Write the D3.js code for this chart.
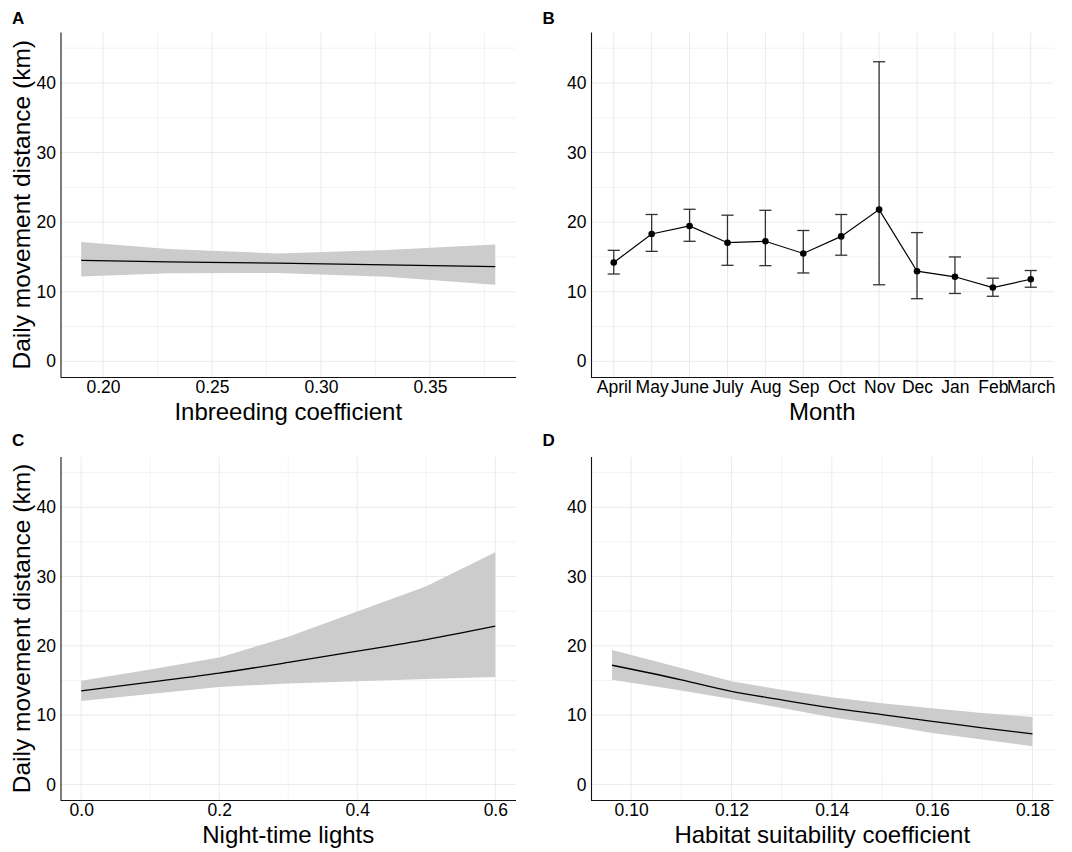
<!DOCTYPE html>
<meta charset="utf-8">
<script src="https://d3js.org/d3.v7.min.js"></script>
<style>
  body { margin: 0; background: #fff; }
  svg text { font-family: "Liberation Sans", Arial, sans-serif; fill: #000; }
</style>
<div id="my_dataviz"></div>
<script>

// ---- data ----
var yTicks = [0, 10, 20, 30, 40];
var yMinor = [5, 15, 25, 35, 45];

// A: inbreeding coefficient
var inbreedX    = [0.19, 0.23, 0.28, 0.33, 0.38];
var inbreedFit  = [14.5, 14.3, 14.1, 13.85, 13.6];
var inbreedLow  = [12.2, 12.65, 12.7, 12.15, 11.0];
var inbreedHigh = [17.15, 16.15, 15.5, 16.0, 16.8];
var inbreedTicks = [0.20, 0.25, 0.30, 0.35];
var inbreedMinor = [0.225, 0.275, 0.325, 0.375];

// B: month
var months    = ["April", "May", "June", "July", "Aug", "Sep", "Oct", "Nov", "Dec", "Jan", "Feb", "March"];
var monthMean = [14.2, 18.3, 19.45, 17.05, 17.25, 15.5, 17.95, 21.8, 12.95, 12.15, 10.6, 11.8];
var monthLow  = [12.55, 15.8, 17.25, 13.8, 13.75, 12.7, 15.25, 11.0, 9.0, 9.75, 9.35, 10.65];
var monthHigh = [15.95, 21.1, 21.85, 21.0, 21.7, 18.8, 21.1, 43.05, 18.5, 15.0, 11.95, 13.05];

// C: night-time lights
var lightsX    = [0, 0.1, 0.2, 0.3, 0.4, 0.5, 0.6];
var lightsFit  = [13.5, 14.77, 16.07, 17.6, 19.23, 20.9, 22.83];
var lightsLow  = [12.04, 13.05, 14.05, 14.58, 14.9, 15.2, 15.5];
var lightsHigh = [14.96, 16.6, 18.32, 21.3, 24.95, 28.6, 33.5];
var lightsTicks = [0, 0.2, 0.4, 0.6];
var lightsMinor = [0.1, 0.3, 0.5];

// D: habitat suitability
var habitatX    = [0.0962, 0.11, 0.12, 0.13, 0.14, 0.15, 0.16, 0.17, 0.18];
var habitatFit  = [17.2, 15.1, 13.43, 12.2, 11.03, 10.07, 9.11, 8.15, 7.29];
var habitatLow  = [15.1, 13.57, 12.33, 11.03, 9.69, 8.63, 7.43, 6.47, 5.52];
var habitatHigh = [19.38, 16.8, 14.87, 13.67, 12.57, 11.7, 10.98, 10.3, 9.74];
var habitatTicks = [0.10, 0.12, 0.14, 0.16, 0.18];
var habitatMinor = [0.11, 0.13, 0.15, 0.17];

var svg = d3.select("#my_dataviz")
    .append("svg")
    .attr("width", 1072)
    .attr("height", 852);

var gridColor = "#ebebeb";
var tickFont = "17.5px";
var titleFont = "24px";

// panel frame: gridlines, letter, y title; returns y scale
function makePanel(box, label, showYTitle) {
    var g = svg.append("g");
    var y = d3.scaleLinear().domain([-2.25, 47.25]).range([box.bottom, box.top]);

    g.selectAll(".ymin").data(yMinor).enter().append("line")
        .attr("x1", box.left).attr("x2", box.right)
        .attr("y1", function (d) { return y(d); }).attr("y2", function (d) { return y(d); })
        .attr("stroke", gridColor).attr("stroke-width", 0.6);
    g.selectAll(".ymaj").data(yTicks).enter().append("line")
        .attr("x1", box.left).attr("x2", box.right)
        .attr("y1", function (d) { return y(d); }).attr("y2", function (d) { return y(d); })
        .attr("stroke", gridColor).attr("stroke-width", 1);

    // panel letter
    svg.append("text")
        .attr("x", box.left - 48.5)
        .attr("y", box.labelY)
        .attr("font-size", "17px")
        .attr("font-weight", "bold")
        .text(label);

    if (showYTitle) {
        svg.append("text")
            .attr("transform", "translate(" + 29.5 + "," + ((box.top + box.bottom) / 2) + ") rotate(-90)")
            .attr("text-anchor", "middle")
            .attr("font-size", "24.5px")
            .text("Daily movement distance (km)");
    }
    return { g: g, y: y };
}

function finishAxes(p, box, x, xTitle, fmt, ticks) {
    var yAxis = p.g.append("g")
        .attr("transform", "translate(" + box.left + ",0)")
        .call(d3.axisLeft(p.y).tickValues(yTicks).tickSize(0).tickPadding(4.5));
    var xAxis = p.g.append("g")
        .attr("transform", "translate(0," + box.bottom + ")")
        .call(d3.axisBottom(x).tickSize(0).tickPadding(4));
    if (ticks) xAxis.call(d3.axisBottom(x).tickValues(ticks).tickFormat(fmt).tickSize(0).tickPadding(4));

    [yAxis, xAxis].forEach(function (a) {
        a.select(".domain").attr("stroke", "#111").attr("stroke-width", 1.1);
        a.selectAll("text").attr("font-size", tickFont).attr("fill", "#111");
    });
    // axis lines span the whole panel
    xAxis.select(".domain").attr("d", "M" + box.left + ",0.5H" + box.right);
    yAxis.select(".domain").attr("d", "M0.5," + box.top + "V" + box.bottom);

    svg.append("text")
        .attr("x", (box.left + box.right) / 2)
        .attr("y", box.bottom + 42.5)
        .attr("text-anchor", "middle")
        .attr("font-size", titleFont)
        .text(xTitle);
}

function ribbonPanel(box, label, showYTitle, xs, fit, lo, hi, ticks, minor, fmt, xTitle) {
    var p = makePanel(box, label, showYTitle);
    var ext = d3.extent(xs), pad = (ext[1] - ext[0]) * 0.05;
    var x = d3.scaleLinear().domain([ext[0] - pad, ext[1] + pad]).range([box.left, box.right]);

    p.g.selectAll(".xmin").data(minor).enter().append("line")
        .attr("y1", box.top).attr("y2", box.bottom)
        .attr("x1", function (d) { return x(d); }).attr("x2", function (d) { return x(d); })
        .attr("stroke", gridColor).attr("stroke-width", 0.6);
    p.g.selectAll(".xmaj").data(ticks).enter().append("line")
        .attr("y1", box.top).attr("y2", box.bottom)
        .attr("x1", function (d) { return x(d); }).attr("x2", function (d) { return x(d); })
        .attr("stroke", gridColor).attr("stroke-width", 1);

    var rows = xs.map(function (v, i) { return { x: v, fit: fit[i], lo: lo[i], hi: hi[i] }; });

    p.g.append("path")
        .datum(rows)
        .attr("fill", "#cccccc")
        .attr("d", d3.area()
            .x(function (d) { return x(d.x); })
            .y0(function (d) { return p.y(d.lo); })
            .y1(function (d) { return p.y(d.hi); }));

    p.g.append("path")
        .datum(rows)
        .attr("fill", "none")
        .attr("stroke", "#000")
        .attr("stroke-width", 1.3)
        .attr("d", d3.line()
            .curve(d3.curveMonotoneX)
            .x(function (d) { return x(d.x); })
            .y(function (d) { return p.y(d.fit); }));

    finishAxes(p, box, x, xTitle, fmt, ticks);
}

var boxA = { left: 60.5, right: 516, top: 32.5, bottom: 377, labelY: 24 };
var boxB = { left: 591, right: 1053.5, top: 32.5, bottom: 377, labelY: 24 };
var boxC = { left: 60.5, right: 516, top: 457, bottom: 800, labelY: 446 };
var boxD = { left: 591, right: 1053.5, top: 457, bottom: 800, labelY: 446 };

ribbonPanel(boxA, "A", true, inbreedX, inbreedFit, inbreedLow, inbreedHigh,
    inbreedTicks, inbreedMinor, d3.format(".2f"), "Inbreeding coefficient");
ribbonPanel(boxC, "C", true, lightsX, lightsFit, lightsLow, lightsHigh,
    lightsTicks, lightsMinor, d3.format(".1f"), "Night-time lights");
ribbonPanel(boxD, "D", false, habitatX, habitatFit, habitatLow, habitatHigh,
    habitatTicks, habitatMinor, d3.format(".2f"), "Habitat suitability coefficient");

// ---- panel B: monthly means with error bars ----
var pB = makePanel(boxB, "B", false);
var xB = d3.scalePoint().domain(months).range([boxB.left, boxB.right]).padding(0.6);

pB.g.selectAll(".xmaj").data(months).enter().append("line")
    .attr("y1", boxB.top).attr("y2", boxB.bottom)
    .attr("x1", function (d) { return xB(d); }).attr("x2", function (d) { return xB(d); })
    .attr("stroke", gridColor).attr("stroke-width", 1);

var monthRows = months.map(function (m, i) {
    return { m: m, mean: monthMean[i], lo: monthLow[i], hi: monthHigh[i] };
});
var capHalf = xB.step() * 0.16;

var bars = pB.g.selectAll(".err").data(monthRows).enter().append("g")
    .attr("stroke", "#333").attr("stroke-width", 1.3);
bars.append("line")
    .attr("x1", function (d) { return xB(d.m); }).attr("x2", function (d) { return xB(d.m); })
    .attr("y1", function (d) { return pB.y(d.lo); }).attr("y2", function (d) { return pB.y(d.hi); });
bars.append("line")
    .attr("x1", function (d) { return xB(d.m) - capHalf; }).attr("x2", function (d) { return xB(d.m) + capHalf; })
    .attr("y1", function (d) { return pB.y(d.lo); }).attr("y2", function (d) { return pB.y(d.lo); });
bars.append("line")
    .attr("x1", function (d) { return xB(d.m) - capHalf; }).attr("x2", function (d) { return xB(d.m) + capHalf; })
    .attr("y1", function (d) { return pB.y(d.hi); }).attr("y2", function (d) { return pB.y(d.hi); });

pB.g.append("path")
    .datum(monthRows)
    .attr("fill", "none")
    .attr("stroke", "#000")
    .attr("stroke-width", 1.2)
    .attr("d", d3.line()
        .x(function (d) { return xB(d.m); })
        .y(function (d) { return pB.y(d.mean); }));

pB.g.selectAll(".pt").data(monthRows).enter().append("circle")
    .attr("cx", function (d) { return xB(d.m); })
    .attr("cy", function (d) { return pB.y(d.mean); })
    .attr("r", 3.3)
    .attr("fill", "#000");

finishAxes(pB, boxB, xB, "Month", null, null);

</script>
